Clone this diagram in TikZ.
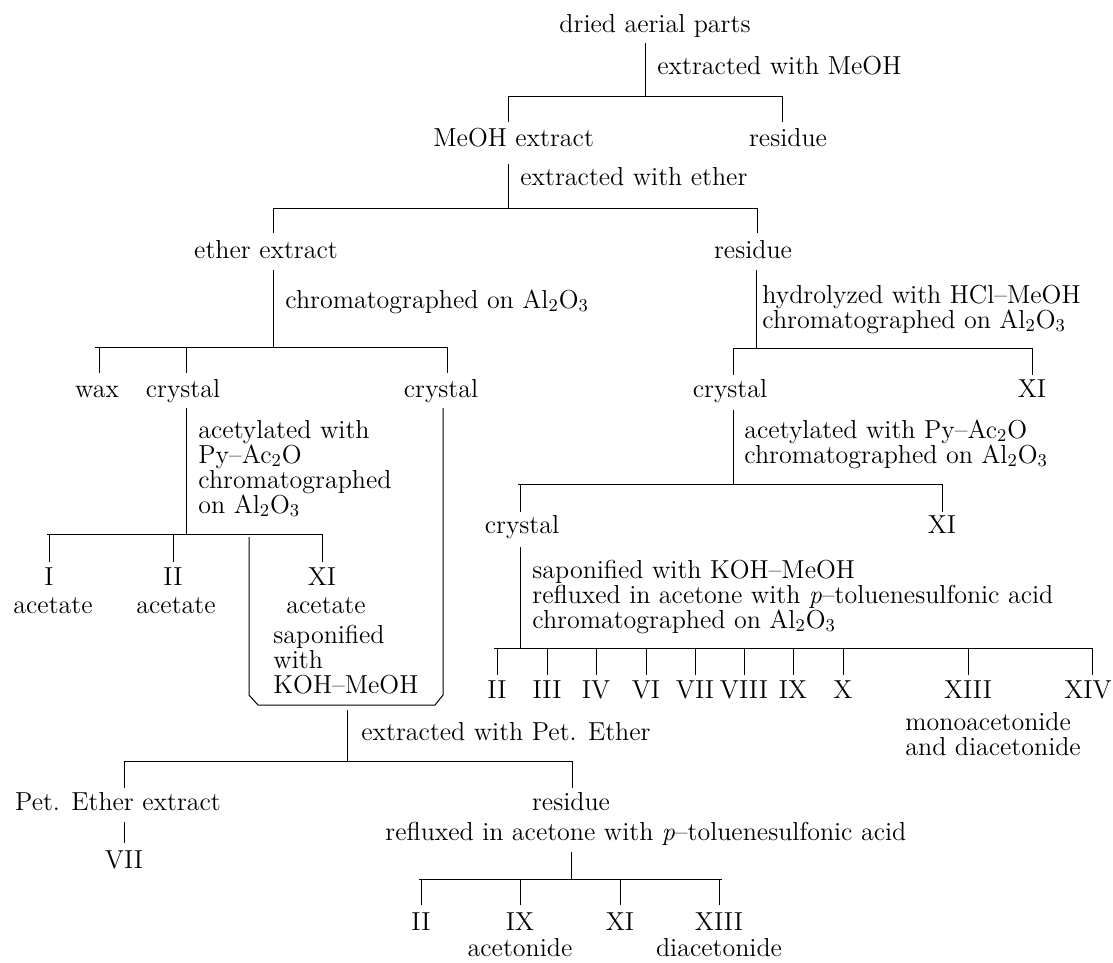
\documentclass[tikz,border=0pt]{standalone}
\begin{document}
\begin{tikzpicture}[x=0.5pt,y=-0.5pt,
  txt/.style={inner sep=0pt,anchor=base,font=\fontsize{13}{12.5}\selectfont},
  lbl/.style={inner sep=0pt,anchor=base west,align=left,font=\fontsize{13}{12.5}\selectfont},
  ln/.style={line width=0.5pt,line cap=butt}]
\useasboundingbox (0,0) rectangle (1113,963);
\fill[white] (0,0) rectangle (1113,963);

% ---------- level 0
\node[txt] (dried) at (655,33) {dried aerial parts};
\node[lbl] (l0) at (657,75) {extracted with MeOH};
\node[lbl] (meoh) at (433,147) {MeOH extract};
\node[txt] (res0) at (788,147) {residue};
\coordinate (v0a) at (645,43); \coordinate (v0b) at (645,97);
\coordinate (h0a) at (508,97); \coordinate (h0b) at (782,97);
\coordinate (d0a) at (508,122); \coordinate (d0b) at (782,122);
\draw[ln] (v0a) -- (v0b);
\draw[ln] (d0a) -- (h0a) -- (h0b) -- (d0b);

% ---------- level 1
\node[lbl] (l1) at (520,185) {extracted with ether};
\node[txt] (ether) at (266,258) {ether extract};
\node[txt] (res1) at (753,258) {residue};
\coordinate (v1a) at (508,164); \coordinate (v1b) at (508,208);
\coordinate (h1a) at (273,208); \coordinate (h1b) at (757,208);
\coordinate (d1a) at (273,233); \coordinate (d1b) at (757,233);
\draw[ln] (v1a) -- (v1b);
\draw[ln] (d1a) -- (h1a) -- (h1b) -- (d1b);

% ---------- left branch
\node[lbl] (l2) at (285,308) {chromatographed on Al$_2$O$_3$};
\coordinate (v2a) at (273,270); \coordinate (v2b) at (273,347);
\draw[ln] (v2a) -- (v2b);
\coordinate (h2a) at (95,347); \coordinate (h2b) at (447,347);
\draw[ln] (h2a) -- (h2b);
\coordinate (d2a) at (99,347); \coordinate (e2a) at (99,373);
\coordinate (d2b) at (186,347); \coordinate (e2b) at (186,373);
\coordinate (e2c) at (447,373);
\draw[ln] (d2a) -- (e2a);
\draw[ln] (d2b) -- (e2b);
\draw[ln] (h2b) -- (e2c);
\node[txt] (wax) at (97,397) {wax};
\node[txt] (cryA) at (183,397) {crystal};
\node[txt] (cryB) at (441,397) {crystal};

\node[lbl] (l3) at (198,513) {acetylated with\\Py--Ac$_2$O\\chromatographed\\on Al$_2$O$_3$};
\coordinate (v3a) at (186,408); \coordinate (v3b) at (186,534);
\draw[ln] (v3a) -- (v3b);
\coordinate (h3a) at (47,534); \coordinate (h3b) at (323,534);
\draw[ln] (h3a) -- (h3b);
\coordinate (d3a) at (49,534); \coordinate (e3a) at (49,562);
\coordinate (d3b) at (173,534); \coordinate (e3b) at (173,562);
\coordinate (d3c) at (322,534); \coordinate (e3c) at (322,562);
\draw[ln] (d3a) -- (e3a);
\draw[ln] (d3b) -- (e3b);
\draw[ln] (d3c) -- (e3c);
\node[txt] (nI) at (49,585) {I};
\node[txt] (nII) at (173,585) {II};
\node[txt] (nXI) at (322,585) {XI};
\node[txt] (acA) at (53,613) {acetate};
\node[txt] (acB) at (176,613) {acetate};
\node[txt] (acC) at (326,613) {acetate};
\node[lbl] (sap) at (273,693) {saponified\\with\\KOH--MeOH};

% bracket joining XI acetate and the right crystal
\coordinate (bR) at (443,408); \coordinate (bL) at (249,537);
\coordinate (bM) at (347,705);
\draw[ln] (bR) -- (443,695) -- (435,705) -- (bM) -- (258,705) -- (249,695) -- (bL);

\coordinate (v4a) at (347,710); \coordinate (v4b) at (347,761);
\draw[ln] (v4a) -- (v4b);
\node[lbl] (l4) at (361,740) {extracted with Pet. Ether};
\coordinate (h4a) at (124,761); \coordinate (h4b) at (572,761);
\coordinate (d4a) at (124,788); \coordinate (d4b) at (572,788);
\draw[ln] (d4a) -- (h4a) -- (h4b) -- (d4b);
\node[txt] (pet) at (118,810) {Pet. Ether extract};
\node[txt] (res2) at (571,810) {residue};
\node[lbl] (l5) at (385,840) {refluxed in acetone with \textit{p}--toluenesulfonic acid};
\coordinate (v5a) at (124,822); \coordinate (v5b) at (124,843);
\draw[ln] (v5a) -- (v5b);
\node[txt] (pVII) at (124,868) {VII};

\coordinate (v6a) at (571,852); \coordinate (v6b) at (571,879);
\draw[ln] (v6a) -- (v6b);
\coordinate (h6a) at (419,879); \coordinate (h6b) at (722,879);
\draw[ln] (h6a) -- (h6b);
\foreach \xx/\nm/\lab in {421/bII/II,520/bIX/IX,620/bXI/XI,719/bXIII/XIII}{
  \coordinate (t\nm) at (\xx,879); \coordinate (u\nm) at (\xx,905);
  \draw[ln] (t\nm) -- (u\nm);
  \node[txt] (\nm) at (\xx,930) {\lab};
}
\node[txt] (acet) at (520,956) {acetonide};
\node[txt] (diacet) at (719,956) {diacetonide};

% ---------- right branch
\node[lbl] (l7) at (762,328) {hydrolyzed with HCl--MeOH\\chromatographed on Al$_2$O$_3$};
\coordinate (v7a) at (756,270); \coordinate (v7b) at (756,348);
\draw[ln] (v7a) -- (v7b);
\coordinate (h7a) at (733,348); \coordinate (h7b) at (1032,348);
\coordinate (d7a) at (733,375); \coordinate (d7b) at (1032,375);
\draw[ln] (d7a) -- (h7a) -- (h7b) -- (d7b);
\node[txt] (cryC) at (730,397) {crystal};
\node[txt] (rXIa) at (1032,397) {XI};

\node[lbl] (l8) at (744,463) {acetylated with Py--Ac$_2$O\\chromatographed on Al$_2$O$_3$};
\coordinate (v8a) at (733,410); \coordinate (v8b) at (733,484);
\draw[ln] (v8a) -- (v8b);
\coordinate (h8a) at (518,484); \coordinate (h8b) at (943,484);
\draw[ln] (h8a) -- (h8b);
\coordinate (d8a) at (520,484); \coordinate (e8a) at (520,512);
\coordinate (d8b) at (942,484); \coordinate (e8b) at (942,512);
\draw[ln] (d8a) -- (e8a);
\draw[ln] (d8b) -- (e8b);
\node[txt] (cryD) at (522,533) {crystal};
\node[txt] (rXIb) at (942,533) {XI};

\node[lbl] (l9) at (532,628) {saponified with KOH--MeOH\\refluxed in acetone with \textit{p}--toluenesulfonic acid\\chromatographed on Al$_2$O$_3$};
\coordinate (v9a) at (520,547); \coordinate (v9b) at (520,648);
\draw[ln] (v9a) -- (v9b);
\coordinate (h9a) at (494,648); \coordinate (h9b) at (1092,648);
\draw[ln] (h9a) -- (h9b);
\foreach \xx/\nm/\lab in {497/cII/II,547/cIII/III,596/cIV/IV,646/cVI/VI,695/cVII/VII,744/cVIII/VIII,793/cIX/IX,843/cX/X,968/cXIII/XIII}{
  \coordinate (t\nm) at (\xx,648); \coordinate (u\nm) at (\xx,675);
  \draw[ln] (t\nm) -- (u\nm);
  \node[txt] (\nm) at (\xx,698) {\lab};
}
\coordinate (tcXIV) at (1092,648); \coordinate (ucXIV) at (1092,675);
\draw[ln] (tcXIV) -- (ucXIV);
\node[txt] (cXIV) at (1088,698) {XIV};
\node[lbl] (mono) at (905,755) {monoacetonide\\and diacetonide};
\end{tikzpicture}
\end{document}
